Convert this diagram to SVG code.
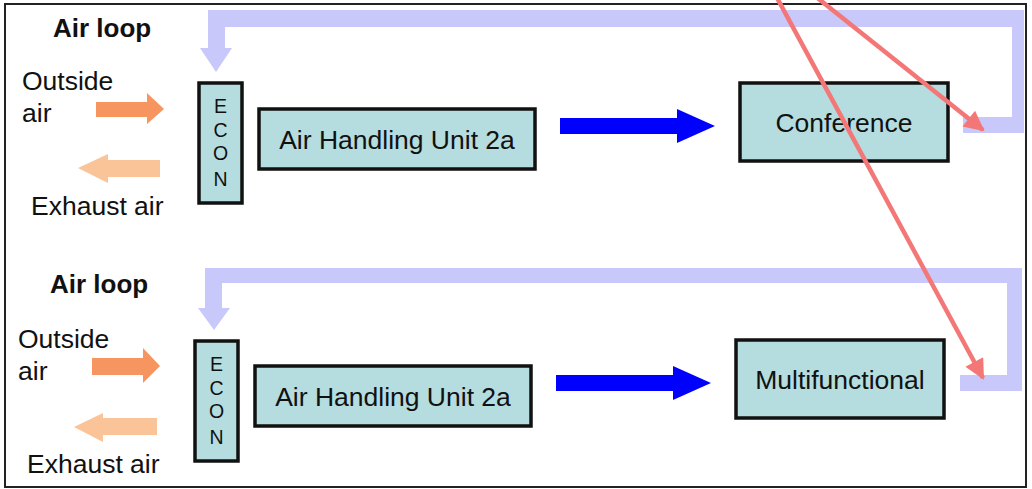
<svg xmlns="http://www.w3.org/2000/svg" width="1032" height="489" viewBox="0 0 1032 489">
<style>
.lbl{font-family:"Liberation Sans",Arial,sans-serif;font-size:26.5px;fill:#111}
.title{font-family:"Liberation Sans",Arial,sans-serif;font-size:26px;font-weight:bold;fill:#111}
.box{fill:#B5DCDF;stroke:#111;stroke-width:3.5}
.econ{font-family:"Liberation Sans",Arial,sans-serif;font-size:19.5px;fill:#111;text-anchor:middle}
.mid{text-anchor:middle}
.pipe{fill:#C8C8FA}
.out{fill:#F79560}
.exh{fill:#FAC398}
.flow{fill:#0000FF}
.red{stroke:#F47777;stroke-width:4.5;fill:none}
</style>
<defs>
<marker id="ra" viewBox="0 0 10 10" refX="9" refY="5" markerWidth="5.5" markerHeight="4.5" orient="auto" markerUnits="strokeWidth">
<path d="M0,0 L10,5 L0,10 z" fill="#F47777"/>
</marker>
</defs>
<rect x="0" y="0" width="1032" height="489" fill="#fff"/>
<rect x="5" y="4" width="1021" height="483" fill="none" stroke="#222" stroke-width="2"/>

<g id="label-top">
<text class="title" x="53" y="37">Air loop</text>
<text class="lbl" x="22" y="90">Outside</text>
<text class="lbl" x="22" y="122">air</text>
<text class="lbl" x="31" y="215">Exhaust air</text>
</g>
<g id="econ-top">
<rect class="box" x="199" y="83" width="43" height="120"/>
<text class="econ" x="220.5" y="113">E</text>
<text class="econ" x="220.5" y="137">C</text>
<text class="econ" x="220.5" y="160">O</text>
<text class="econ" x="220.5" y="186">N</text>
</g>
<g id="ahu-top">
<rect class="box" x="259" y="109" width="276" height="60"/>
<text class="lbl mid" x="397" y="149">Air Handling Unit 2a</text>
</g>
<g id="conference">
<rect class="box" x="740" y="83" width="208" height="78"/>
<text class="lbl mid" x="844" y="132">Conference</text>
</g>

<g id="label-bottom">
<text class="title" x="50" y="293">Air loop</text>
<text class="lbl" x="18" y="348">Outside</text>
<text class="lbl" x="18" y="380">air</text>
<text class="lbl" x="27" y="473">Exhaust air</text>
</g>
<g id="econ-bottom">
<rect class="box" x="195" y="341" width="43" height="120"/>
<text class="econ" x="216.5" y="371">E</text>
<text class="econ" x="216.5" y="395">C</text>
<text class="econ" x="216.5" y="418">O</text>
<text class="econ" x="216.5" y="444">N</text>
</g>
<g id="ahu-bottom">
<rect class="box" x="255" y="366" width="276" height="60"/>
<text class="lbl mid" x="393" y="406">Air Handling Unit 2a</text>
</g>
<g id="multifunctional">
<rect class="box" x="736" y="340" width="208" height="78"/>
<text class="lbl mid" x="840" y="389">Multifunctional</text>
</g>

<g id="connectors">
<polygon class="pipe" points="963,117 1012,117 1012,27 225,27 225,48 232,48 216,72 200,48 208,48 208,10 1024,10 1024,133 963,133"/>
<polygon class="pipe" points="960,375 1007,375 1007,283 222,283 222,308 230,308 214,330 198,308 205,308 205,268 1022,268 1022,391 960,391"/>
<polygon class="out" points="96,102 147,102 147,93 164,109 147,124 147,117 96,117"/>
<polygon class="exh" points="160,160 108,160 108,154 78,168 108,183 108,177 160,177"/>
<polygon class="out" points="92,358 143,358 143,348 160,366 143,383 143,375 92,375"/>
<polygon class="exh" points="157,418 103,418 103,413 74,427 103,442 103,435 157,435"/>
<polygon class="flow" points="560,118 677,118 677,109 715,126 677,143 677,134 560,134"/>
<polygon class="flow" points="556,375 673,375 673,366 711,383 673,400 673,391 556,391"/>
<line class="red" x1="776" y1="-4" x2="983" y2="378" marker-end="url(#ra)"/>
<line class="red" x1="815" y1="-4" x2="983" y2="130" marker-end="url(#ra)"/>
</g>
</svg>
